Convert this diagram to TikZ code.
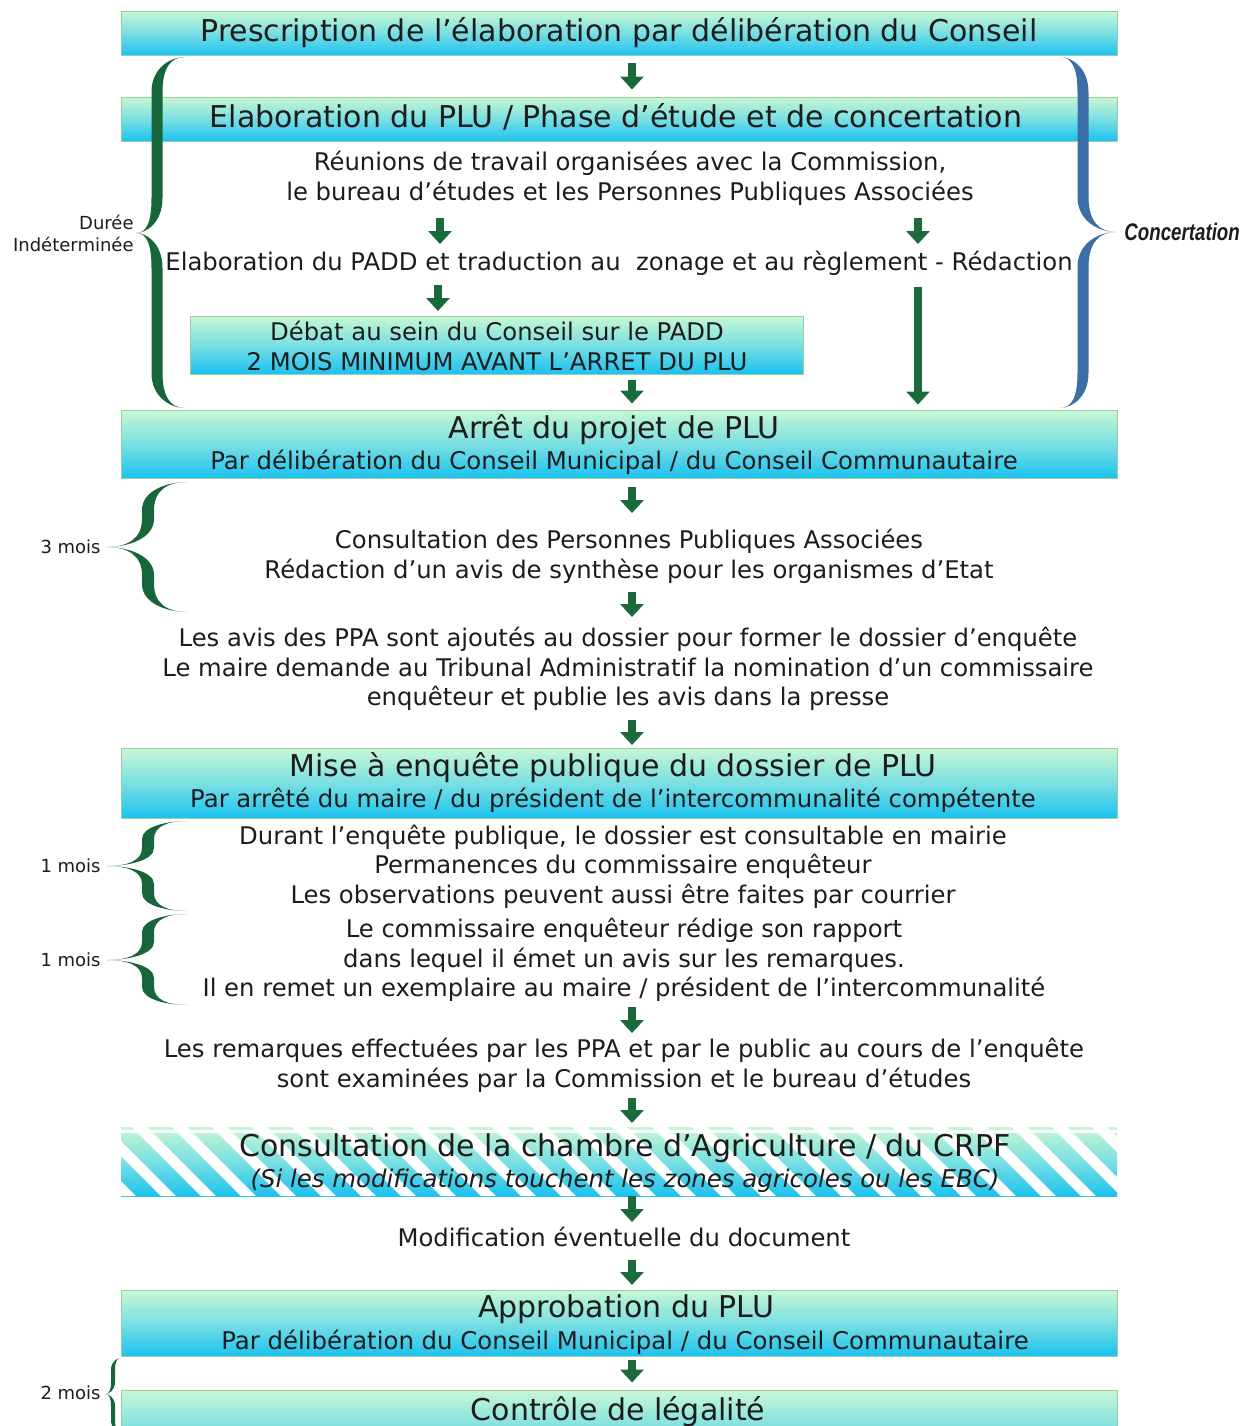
\documentclass[tikz,border=0pt]{standalone}
\usepackage{fontspec}
\usepackage{graphicx}
\setmainfont{DejaVu Sans}
\newfontfamily\concfont{Liberation Sans}
\usetikzlibrary{arrows.meta,calc}
\definecolor{bxtop}{HTML}{C8F7D4}
\definecolor{bxmid}{HTML}{7ADFE2}
\definecolor{bxbot}{HTML}{1BC2F0}
\definecolor{bxline}{HTML}{9CCFA0}
\definecolor{agreen}{HTML}{1B6B3A}
\definecolor{bgreen}{HTML}{17663A}
\definecolor{bblue}{HTML}{3C6EA6}
\definecolor{txt}{HTML}{1C1C1C}
\newcommand\halfbr[8]{%
  \pgfmathsetmacro\bqq{#7*sign(#5-#2)}%
  \pgfmathsetmacro\bxo{#3-#6/2}%
  \pgfmathsetmacro\bxi{#3+#6/2}%
  \pgfmathsetmacro\bxm{(#1+#3)/2}%
  \pgfmathsetmacro\bxn{(#3+#4)/2}%
  \fill[#8] (#1,#2) .. controls (\bxm,#2) and (\bxo,{#2+0.3*\bqq}) .. (\bxo,{#2+\bqq})
    -- (\bxo,{#5-\bqq}) .. controls (\bxo,{#5-0.3*\bqq}) and (\bxn,#5) .. (#4,#5)
    .. controls (\bxn,#5) and (\bxi,{#5-0.3*\bqq}) .. (\bxi,{#5-\bqq})
    -- (\bxi,{#2+\bqq}) .. controls (\bxi,{#2+0.3*\bqq}) and (\bxm,#2) .. (#1,#2) -- cycle;
}
\begin{document}
\begin{tikzpicture}[x=0.5pt,y=-0.5pt,
  box/.style={draw=bxline, line width=0.5pt, top color=bxtop, bottom color=bxbot, middle color=bxmid, minimum width=498pt, inner sep=0pt},
  hbox/.style={top color=bxtop, bottom color=bxbot, middle color=bxmid, minimum width=498pt, inner sep=0pt},
  ttl/.style={font=\fontsize{15}{18}\selectfont, text=txt, inner sep=0pt},
  sub/.style={font=\fontsize{12.2}{15}\selectfont, text=txt, inner sep=0pt},
  body/.style={font=\fontsize{12.15}{14.8}\selectfont, text=txt, align=center, inner sep=0pt},
  small/.style={font=\fontsize{9}{11}\selectfont, text=txt, inner sep=0pt},
  garrow/.style={draw=agreen, line width=4pt, -{Triangle[length=6.5pt,width=11.5pt]}}
]
\useasboundingbox (0,0) rectangle (1251,1426);
\begin{scope}
\clip (0,0) rectangle (1251,1426);
\coordinate (ax) at (632,0);

% boxes
\node[box, minimum height=22pt] (b1) at (619,33) {};
\node[ttl] (t1) at (619,33) {Prescription de l’élaboration par délibération du Conseil};
\node[box, minimum height=22pt] (b2) at (619,119) {};
\node[ttl] (t2) at (616,117) {Elaboration du PLU / Phase d’étude et de concertation};

\node[body] (t3) at (630,178.5) {Réunions de travail organisées avec la Commission,\\le bureau d’études et les Personnes Publiques Associées};
\node[body] (t4) at (619,263) {Elaboration du PADD et traduction au\ \ zonage et au règlement - Rédaction};

\node[box, minimum width=306.5pt, minimum height=29pt] (b3) at (496.5,345) {};
\node[body] (t3b) at (497,346) {Débat au sein du Conseil sur le PADD\\2 MOIS MINIMUM AVANT L’ARRET DU PLU};

\node[box, minimum height=34pt] (b4) at (619,444) {};
\node[ttl] (t4a) at (614,430) {Arrêt du projet de PLU};
\node[sub] (t4b) at (614,462) {Par délibération du Conseil Municipal / du Conseil Communautaire};

\node[body] (t5) at (629,556) {Consultation des Personnes Publiques Associées\\Rédaction d’un avis de synthèse pour les organismes d’Etat};
\node[body] (t6) at (628,669) {Les avis des PPA sont ajoutés au dossier pour former le dossier d’enquête\\Le maire demande au Tribunal Administratif la nomination d’un commissaire\\enquêteur et publie les avis dans la presse};

\node[box, minimum height=35pt] (b5) at (619,783) {};
\node[ttl] (t5a) at (613,768) {Mise à enquête publique du dossier de PLU};
\node[sub] (t5b) at (613,800) {Par arrêté du maire / du président de l’intercommunalité compétente};

\node[body] (t7) at (623,866.5) {Durant l’enquête publique, le dossier est consultable en mairie\\Permanences du commissaire enquêteur\\Les observations peuvent aussi être faites par courrier};
\node[body] (t8) at (624,960) {Le commissaire enquêteur rédige son rapport\\dans lequel il émet un avis sur les remarques.\\Il en remet un exemplaire au maire / président de l’intercommunalité};
\node[body] (t9) at (624,1065) {Les remarques effectuées par les PPA et par le public au cours de l’enquête\\sont examinées par la Commission et le bureau d’études};

% hatched box
\node[hbox, minimum height=34.5pt] (b6) at (619,1161.5) {};
\begin{scope}
\clip (b6.south west) rectangle (b6.north east);
\foreach \s in {0,...,28} {
  \fill[white] ({52+40*\s},1127) -- ++(15,0) -- ++(69,69) -- ++(-15,0) -- cycle;
}
\fill[white] (121,1130) rectangle (1117,1133);
\end{scope}
\node[ttl] (t6a) at (625,1148) {Consultation de la chambre d’Agriculture / du CRPF};
\node[sub, font=\fontsize{12.2}{15}\selectfont\itshape] (t6b) at (625,1181) {(Si les modifications touchent les zones agricoles ou les EBC)};

\node[body] (t10) at (624,1237) {Modification éventuelle du document};

\node[box, minimum height=33pt] (b7) at (619,1323) {};
\node[ttl] (t7a) at (626,1309) {Approbation du PLU};
\node[sub] (t7b) at (625,1342) {Par délibération du Conseil Municipal / du Conseil Communautaire};

\node[box, minimum height=40pt] (b8) at (619,1430) {};
\node[ttl] (t8a) at (618,1412) {Contrôle de légalité};

% arrows
\draw[garrow, shorten <=3.5pt, shorten >=3.5pt] (b1.south -| ax) -- (b2.north -| ax);
\coordinate (a2) at (440,218); \draw[garrow] (a2) -- ++(0,26);
\coordinate (a3) at (918,218); \draw[garrow] (a3) -- ++(0,26);
\coordinate (a4) at (438,285); \draw[garrow] (a4) -- ++(0,26);
\coordinate (a5) at (918,287); \draw[garrow, shorten >=2.5pt] (a5) -- (b4.north -| a5);
\draw[garrow, shorten <=2.5pt, shorten >=3pt] (b3.south -| ax) -- (b4.north -| ax);
\coordinate (a7) at (632,487); \draw[garrow] (a7) -- ++(0,26);
\coordinate (a8) at (632,592); \draw[garrow] (a8) -- ++(0,25);
\coordinate (a9) at (632,720); \draw[garrow] (a9) -- ++(0,25);
\coordinate (a10) at (632,1007); \draw[garrow] (a10) -- ++(0,26);
\coordinate (a11) at (632,1098); \draw[garrow] (a11) -- ++(0,25);
\coordinate (a12) at (632,1196); \draw[garrow] (a12) -- ++(0,26);
\coordinate (a13) at (632,1260); \draw[garrow] (a13) -- ++(0,25);
\draw[garrow, shorten <=1.5pt, shorten >=3.5pt] (b7.south -| ax) -- (b8.north -| ax);

% braces
\halfbr{136}{233}{157}{185}{57}{11}{35}{bgreen}
\halfbr{136}{233}{157}{185}{408}{11}{35}{bgreen}
\halfbr{1116}{232}{1083}{1060}{57}{11}{35}{bblue}
\halfbr{1116}{232}{1083}{1060}{408}{11}{35}{bblue}
\halfbr{107}{547}{148}{187}{482}{12}{28}{bgreen}
\halfbr{107}{547}{148}{187}{612}{12}{28}{bgreen}
\halfbr{107}{866}{148}{187}{821}{12}{18}{bgreen}
\halfbr{107}{866}{148}{187}{911}{12}{18}{bgreen}
\halfbr{107}{960}{148}{187}{914}{12}{18}{bgreen}
\halfbr{107}{960}{148}{187}{1005}{12}{18}{bgreen}
\halfbr{105}{1394}{113}{121}{1358}{4}{12}{bgreen}
\halfbr{105}{1394}{113}{121}{1432}{4}{12}{bgreen}

% labels
\node[small, align=right, anchor=east] (ld) at (134,233) {Durée\\Indéterminée};
\node[anchor=west, inner sep=0pt, text=txt] (lc) at (1124,232) {\scalebox{0.78}[1]{\fontsize{12}{14}\concfont\bfseries\itshape Concertation}};
\node[small, anchor=east] (l3) at (101,547) {3 mois};
\node[small, anchor=east] (l1a) at (101,866) {1 mois};
\node[small, anchor=east] (l1b) at (101,960) {1 mois};
\node[small, anchor=east] (l2) at (101,1393) {2 mois};
\end{scope}
\end{tikzpicture}
\end{document}
